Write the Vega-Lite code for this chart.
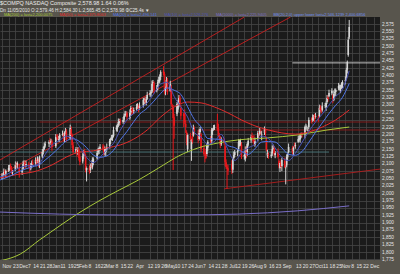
{
  "$schema": "https://vega.github.io/schema/vega-lite/v6.json",
  "width": 380,
  "height": 243,
  "autosize": {"type": "none"},
  "padding": {"left": 0, "top": 17, "right": 20, "bottom": 14},
  "background": "#58554d",
  "view": {"fill": "#1b1b1b", "stroke": null},
  "config": {"font": "Liberation Sans"},
  "title": {
    "text": "$COMPQ NASDAQ Composite  2,578.98   1.64  0.06%",
    "subtitle": "Dn 11/05/2010 O:2,579.46 H:2,584.30 L:2,565.45 C:2,578.98   \u03a6C25.4s \u25bc",
    "anchor": "start", "frame": "group", "orient": "top",
    "font": "Liberation Sans", "subtitleFont": "Liberation Sans",
    "fontSize": 5.5, "fontWeight": "normal", "color": "#ececec",
    "subtitleFontSize": 4.6, "subtitleColor": "#e6e6e6",
    "subtitlePadding": 0.8, "offset": 0.5
  },
  "datasets": {
    "px": [
      {"d":"2009-11-09","o":2052,"h":2068,"l":2045,"c":2059},
      {"d":"2009-11-10","o":2060,"h":2068,"l":2049,"c":2062},
      {"d":"2009-11-11","o":2063,"h":2084,"l":2058,"c":2072},
      {"d":"2009-11-12","o":2073,"h":2080,"l":2057,"c":2065},
      {"d":"2009-11-13","o":2066,"h":2081,"l":2053,"c":2076},
      {"d":"2009-11-16","o":2078,"h":2096,"l":2072,"c":2086},
      {"d":"2009-11-17","o":2085,"h":2097,"l":2076,"c":2089},
      {"d":"2009-11-18","o":2090,"h":2101,"l":2082,"c":2086},
      {"d":"2009-11-19","o":2084,"h":2093,"l":2065,"c":2072},
      {"d":"2009-11-20","o":2070,"h":2079,"l":2059,"c":2073},
      {"d":"2009-11-23","o":2080,"h":2108,"l":2075,"c":2096},
      {"d":"2009-11-24","o":2097,"h":2104,"l":2087,"c":2095},
      {"d":"2009-11-25","o":2096,"h":2108,"l":2083,"c":2103},
      {"d":"2009-11-27","o":2090,"h":2100,"l":2053,"c":2069},
      {"d":"2009-11-30","o":2071,"h":2087,"l":2062,"c":2079},
      {"d":"2009-12-01","o":2083,"h":2110,"l":2079,"c":2099},
      {"d":"2009-12-02","o":2100,"h":2112,"l":2093,"c":2103},
      {"d":"2009-12-03","o":2105,"h":2111,"l":2082,"c":2093},
      {"d":"2009-12-04","o":2096,"h":2111,"l":2088,"c":2099},
      {"d":"2009-12-07","o":2100,"h":2107,"l":2085,"c":2093},
      {"d":"2009-12-08","o":2092,"h":2097,"l":2069,"c":2082},
      {"d":"2009-12-09","o":2084,"h":2103,"l":2078,"c":2093},
      {"d":"2009-12-10","o":2095,"h":2111,"l":2086,"c":2103},
      {"d":"2009-12-11","o":2104,"h":2115,"l":2095,"c":2099},
      {"d":"2009-12-14","o":2101,"h":2122,"l":2094,"c":2113},
      {"d":"2009-12-15","o":2112,"h":2118,"l":2095,"c":2106},
      {"d":"2009-12-16","o":2107,"h":2125,"l":2102,"c":2113},
      {"d":"2009-12-17","o":2111,"h":2118,"l":2088,"c":2096},
      {"d":"2009-12-18","o":2098,"h":2128,"l":2085,"c":2123},
      {"d":"2009-12-21","o":2125,"h":2150,"l":2119,"c":2140},
      {"d":"2009-12-22","o":2141,"h":2158,"l":2132,"c":2150},
      {"d":"2009-12-23","o":2151,"h":2172,"l":2147,"c":2161},
      {"d":"2009-12-24","o":2162,"h":2176,"l":2155,"c":2167},
      {"d":"2009-12-28","o":2168,"h":2180,"l":2157,"c":2174},
      {"d":"2009-12-29","o":2176,"h":2188,"l":2168,"c":2173},
      {"d":"2009-12-30","o":2171,"h":2185,"l":2163,"c":2178},
      {"d":"2009-12-31","o":2177,"h":2182,"l":2144,"c":2157},
      {"d":"2010-01-04","o":2160,"h":2201,"l":2154,"c":2191},
      {"d":"2010-01-05","o":2192,"h":2200,"l":2181,"c":2190},
      {"d":"2010-01-06","o":2189,"h":2200,"l":2180,"c":2184},
      {"d":"2010-01-07","o":2182,"h":2194,"l":2175,"c":2185},
      {"d":"2010-01-08","o":2186,"h":2204,"l":2175,"c":2198},
      {"d":"2010-01-11","o":2199,"h":2213,"l":2194,"c":2201},
      {"d":"2010-01-12","o":2198,"h":2205,"l":2176,"c":2184},
      {"d":"2010-01-13","o":2186,"h":2210,"l":2173,"c":2205},
      {"d":"2010-01-14","o":2206,"h":2222,"l":2200,"c":2212},
      {"d":"2010-01-15","o":2210,"h":2218,"l":2175,"c":2184},
      {"d":"2010-01-19","o":2186,"h":2233,"l":2182,"c":2222},
      {"d":"2010-01-20","o":2218,"h":2227,"l":2191,"c":2198},
      {"d":"2010-01-21","o":2197,"h":2203,"l":2153,"c":2164},
      {"d":"2010-01-22","o":2162,"h":2174,"l":2135,"c":2140},
      {"d":"2010-01-25","o":2143,"h":2157,"l":2135,"c":2150},
      {"d":"2010-01-26","o":2148,"h":2153,"l":2124,"c":2137},
      {"d":"2010-01-27","o":2136,"h":2157,"l":2130,"c":2147},
      {"d":"2010-01-28","o":2148,"h":2156,"l":2111,"c":2120},
      {"d":"2010-01-29","o":2124,"h":2135,"l":2095,"c":2106},
      {"d":"2010-02-01","o":2108,"h":2136,"l":2101,"c":2127},
      {"d":"2010-02-02","o":2128,"h":2146,"l":2117,"c":2140},
      {"d":"2010-02-03","o":2139,"h":2151,"l":2125,"c":2130},
      {"d":"2010-02-04","o":2127,"h":2134,"l":2071,"c":2079},
      {"d":"2010-02-05","o":2078,"h":2091,"l":2040,"c":2086},
      {"d":"2010-02-08","o":2087,"h":2097,"l":2066,"c":2072},
      {"d":"2010-02-09","o":2078,"h":2101,"l":2069,"c":2093},
      {"d":"2010-02-10","o":2092,"h":2103,"l":2085,"c":2089},
      {"d":"2010-02-11","o":2088,"h":2122,"l":2081,"c":2113},
      {"d":"2010-02-12","o":2106,"h":2122,"l":2095,"c":2116},
      {"d":"2010-02-16","o":2119,"h":2149,"l":2114,"c":2137},
      {"d":"2010-02-17","o":2139,"h":2154,"l":2131,"c":2147},
      {"d":"2010-02-18","o":2146,"h":2159,"l":2133,"c":2154},
      {"d":"2010-02-19","o":2150,"h":2167,"l":2144,"c":2157},
      {"d":"2010-02-22","o":2159,"h":2167,"l":2145,"c":2154},
      {"d":"2010-02-23","o":2153,"h":2164,"l":2129,"c":2133},
      {"d":"2010-02-24","o":2135,"h":2159,"l":2128,"c":2150},
      {"d":"2010-02-25","o":2140,"h":2153,"l":2125,"c":2147},
      {"d":"2010-02-26","o":2149,"h":2169,"l":2144,"c":2157},
      {"d":"2010-03-01","o":2160,"h":2185,"l":2152,"c":2178},
      {"d":"2010-03-02","o":2180,"h":2189,"l":2167,"c":2184},
      {"d":"2010-03-03","o":2186,"h":2198,"l":2180,"c":2188},
      {"d":"2010-03-04","o":2187,"h":2199,"l":2178,"c":2191},
      {"d":"2010-03-05","o":2194,"h":2226,"l":2190,"c":2215},
      {"d":"2010-03-08","o":2217,"h":2231,"l":2210,"c":2222},
      {"d":"2010-03-09","o":2220,"h":2235,"l":2209,"c":2229},
      {"d":"2010-03-10","o":2230,"h":2254,"l":2225,"c":2242},
      {"d":"2010-03-11","o":2238,"h":2253,"l":2230,"c":2246},
      {"d":"2010-03-12","o":2249,"h":2254,"l":2232,"c":2245},
      {"d":"2010-03-15","o":2242,"h":2259,"l":2236,"c":2249},
      {"d":"2010-03-16","o":2250,"h":2271,"l":2241,"c":2263},
      {"d":"2010-03-17","o":2264,"h":2280,"l":2260,"c":2269},
      {"d":"2010-03-18","o":2268,"h":2279,"l":2261,"c":2270},
      {"d":"2010-03-19","o":2272,"h":2278,"l":2248,"c":2259},
      {"d":"2010-03-22","o":2255,"h":2285,"l":2250,"c":2273},
      {"d":"2010-03-23","o":2274,"h":2297,"l":2266,"c":2290},
      {"d":"2010-03-24","o":2287,"h":2292,"l":2267,"c":2280},
      {"d":"2010-03-25","o":2284,"h":2294,"l":2270,"c":2276},
      {"d":"2010-03-26","o":2278,"h":2291,"l":2269,"c":2283},
      {"d":"2010-03-29","o":2285,"h":2304,"l":2281,"c":2293},
      {"d":"2010-03-30","o":2294,"h":2306,"l":2287,"c":2297},
      {"d":"2010-03-31","o":2296,"h":2302,"l":2275,"c":2286},
      {"d":"2010-04-01","o":2289,"h":2309,"l":2284,"c":2297},
      {"d":"2010-04-05","o":2299,"h":2324,"l":2291,"c":2317},
      {"d":"2010-04-06","o":2315,"h":2325,"l":2302,"c":2320},
      {"d":"2010-04-07","o":2319,"h":2329,"l":2304,"c":2310},
      {"d":"2010-04-08","o":2308,"h":2328,"l":2299,"c":2320},
      {"d":"2010-04-09","o":2321,"h":2345,"l":2317,"c":2334},
      {"d":"2010-04-12","o":2335,"h":2350,"l":2328,"c":2341},
      {"d":"2010-04-13","o":2339,"h":2350,"l":2328,"c":2344},
      {"d":"2010-04-14","o":2346,"h":2383,"l":2341,"c":2371},
      {"d":"2010-04-15","o":2372,"h":2385,"l":2364,"c":2378},
      {"d":"2010-04-16","o":2376,"h":2381,"l":2338,"c":2351},
      {"d":"2010-04-19","o":2349,"h":2368,"l":2343,"c":2358},
      {"d":"2010-04-20","o":2360,"h":2386,"l":2351,"c":2378},
      {"d":"2010-04-21","o":2379,"h":2396,"l":2375,"c":2385},
      {"d":"2010-04-22","o":2380,"h":2404,"l":2373,"c":2395},
      {"d":"2010-04-23","o":2396,"h":2418,"l":2385,"c":2412},
      {"d":"2010-04-26","o":2414,"h":2432,"l":2400,"c":2409},
      {"d":"2010-04-27","o":2405,"h":2412,"l":2336,"c":2344},
      {"d":"2010-04-28","o":2346,"h":2363,"l":2333,"c":2358},
      {"d":"2010-04-29","o":2362,"h":2395,"l":2356,"c":2385},
      {"d":"2010-04-30","o":2384,"h":2392,"l":2335,"c":2344},
      {"d":"2010-05-03","o":2348,"h":2382,"l":2344,"c":2371},
      {"d":"2010-05-04","o":2360,"h":2369,"l":2296,"c":2303},
      {"d":"2010-05-05","o":2298,"h":2304,"l":2282,"c":2293},
      {"d":"2010-05-06","o":2290,"h":2300,"l":2079,"c":2256},
      {"d":"2010-05-07","o":2258,"h":2270,"l":2185,"c":2229},
      {"d":"2010-05-10","o":2270,"h":2310,"l":2262,"c":2303},
      {"d":"2010-05-11","o":2285,"h":2316,"l":2275,"c":2297},
      {"d":"2010-05-12","o":2298,"h":2334,"l":2292,"c":2324},
      {"d":"2010-05-13","o":2325,"h":2333,"l":2298,"c":2307},
      {"d":"2010-05-14","o":2290,"h":2301,"l":2250,"c":2263},
      {"d":"2010-05-17","o":2270,"h":2274,"l":2225,"c":2262},
      {"d":"2010-05-18","o":2270,"h":2285,"l":2235,"c":2242},
      {"d":"2010-05-19","o":2236,"h":2248,"l":2205,"c":2225},
      {"d":"2010-05-20","o":2207,"h":2214,"l":2163,"c":2171},
      {"d":"2010-05-21","o":2150,"h":2203,"l":2140,"c":2198},
      {"d":"2010-05-24","o":2195,"h":2205,"l":2178,"c":2184},
      {"d":"2010-05-25","o":2150,"h":2185,"l":2110,"c":2181},
      {"d":"2010-05-26","o":2192,"h":2210,"l":2168,"c":2174},
      {"d":"2010-05-27","o":2196,"h":2233,"l":2192,"c":2222},
      {"d":"2010-05-28","o":2218,"h":2227,"l":2201,"c":2208},
      {"d":"2010-06-01","o":2200,"h":2215,"l":2170,"c":2181},
      {"d":"2010-06-02","o":2184,"h":2217,"l":2179,"c":2205},
      {"d":"2010-06-03","o":2208,"h":2225,"l":2200,"c":2218},
      {"d":"2010-06-04","o":2200,"h":2205,"l":2140,"c":2150},
      {"d":"2010-06-07","o":2153,"h":2163,"l":2127,"c":2133},
      {"d":"2010-06-08","o":2130,"h":2138,"l":2105,"c":2127},
      {"d":"2010-06-09","o":2140,"h":2151,"l":2116,"c":2120},
      {"d":"2010-06-10","o":2133,"h":2170,"l":2126,"c":2161},
      {"d":"2010-06-11","o":2155,"h":2180,"l":2144,"c":2174},
      {"d":"2010-06-14","o":2182,"h":2194,"l":2168,"c":2173},
      {"d":"2010-06-15","o":2176,"h":2222,"l":2168,"c":2215},
      {"d":"2010-06-16","o":2211,"h":2221,"l":2198,"c":2216},
      {"d":"2010-06-17","o":2219,"h":2232,"l":2213,"c":2222},
      {"d":"2010-06-18","o":2224,"h":2233,"l":2215,"c":2225},
      {"d":"2010-06-21","o":2240,"h":2270,"l":2212,"c":2218},
      {"d":"2010-06-22","o":2222,"h":2236,"l":2190,"c":2195},
      {"d":"2010-06-23","o":2196,"h":2205,"l":2181,"c":2191},
      {"d":"2010-06-24","o":2188,"h":2194,"l":2153,"c":2164},
      {"d":"2010-06-25","o":2166,"h":2190,"l":2161,"c":2178},
      {"d":"2010-06-28","o":2180,"h":2187,"l":2163,"c":2171},
      {"d":"2010-06-29","o":2160,"h":2165,"l":2093,"c":2106},
      {"d":"2010-06-30","o":2105,"h":2115,"l":2083,"c":2089},
      {"d":"2010-07-01","o":2090,"h":2098,"l":2015,"c":2082},
      {"d":"2010-07-02","o":2085,"h":2096,"l":2062,"c":2076},
      {"d":"2010-07-06","o":2100,"h":2112,"l":2065,"c":2079},
      {"d":"2010-07-07","o":2080,"h":2121,"l":2069,"c":2116},
      {"d":"2010-07-08","o":2120,"h":2142,"l":2112,"c":2130},
      {"d":"2010-07-09","o":2130,"h":2147,"l":2122,"c":2140},
      {"d":"2010-07-12","o":2139,"h":2149,"l":2126,"c":2144},
      {"d":"2010-07-13","o":2150,"h":2184,"l":2144,"c":2174},
      {"d":"2010-07-14","o":2168,"h":2182,"l":2159,"c":2174},
      {"d":"2010-07-15","o":2170,"h":2185,"l":2160,"c":2173},
      {"d":"2010-07-16","o":2165,"h":2174,"l":2116,"c":2123},
      {"d":"2010-07-19","o":2125,"h":2136,"l":2114,"c":2130},
      {"d":"2010-07-20","o":2118,"h":2159,"l":2108,"c":2147},
      {"d":"2010-07-21","o":2150,"h":2160,"l":2119,"c":2127},
      {"d":"2010-07-22","o":2140,"h":2172,"l":2127,"c":2167},
      {"d":"2010-07-23","o":2165,"h":2188,"l":2159,"c":2178},
      {"d":"2010-07-26","o":2180,"h":2199,"l":2171,"c":2191},
      {"d":"2010-07-27","o":2195,"h":2206,"l":2184,"c":2188},
      {"d":"2010-07-28","o":2186,"h":2195,"l":2171,"c":2178},
      {"d":"2010-07-29","o":2182,"h":2198,"l":2163,"c":2174},
      {"d":"2010-07-30","o":2165,"h":2189,"l":2158,"c":2177},
      {"d":"2010-08-02","o":2185,"h":2212,"l":2177,"c":2205},
      {"d":"2010-08-03","o":2203,"h":2208,"l":2188,"c":2201},
      {"d":"2010-08-04","o":2202,"h":2222,"l":2196,"c":2212},
      {"d":"2010-08-05","o":2209,"h":2217,"l":2199,"c":2208},
      {"d":"2010-08-06","o":2200,"h":2212,"l":2180,"c":2201},
      {"d":"2010-08-09","o":2205,"h":2227,"l":2198,"c":2218},
      {"d":"2010-08-10","o":2214,"h":2220,"l":2190,"c":2205},
      {"d":"2010-08-11","o":2180,"h":2192,"l":2142,"c":2147},
      {"d":"2010-08-12","o":2128,"h":2148,"l":2120,"c":2137},
      {"d":"2010-08-13","o":2134,"h":2139,"l":2117,"c":2130},
      {"d":"2010-08-16","o":2126,"h":2141,"l":2120,"c":2131},
      {"d":"2010-08-17","o":2136,"h":2162,"l":2127,"c":2150},
      {"d":"2010-08-18","o":2149,"h":2165,"l":2145,"c":2154},
      {"d":"2010-08-19","o":2152,"h":2161,"l":2126,"c":2133},
      {"d":"2010-08-20","o":2130,"h":2143,"l":2119,"c":2137},
      {"d":"2010-08-23","o":2140,"h":2152,"l":2118,"c":2123},
      {"d":"2010-08-24","o":2110,"h":2117,"l":2085,"c":2093},
      {"d":"2010-08-25","o":2085,"h":2108,"l":2072,"c":2103},
      {"d":"2010-08-26","o":2105,"h":2115,"l":2083,"c":2089},
      {"d":"2010-08-27","o":2092,"h":2121,"l":2075,"c":2113},
      {"d":"2010-08-30","o":2110,"h":2121,"l":2085,"c":2089},
      {"d":"2010-08-31","o":2085,"h":2095,"l":2030,"c":2086},
      {"d":"2010-09-01","o":2095,"h":2132,"l":2088,"c":2123},
      {"d":"2010-09-02","o":2122,"h":2139,"l":2111,"c":2133},
      {"d":"2010-09-03","o":2140,"h":2169,"l":2135,"c":2157},
      {"d":"2010-09-07","o":2153,"h":2160,"l":2132,"c":2140},
      {"d":"2010-09-08","o":2142,"h":2159,"l":2129,"c":2154},
      {"d":"2010-09-09","o":2162,"h":2172,"l":2155,"c":2161},
      {"d":"2010-09-10","o":2160,"h":2172,"l":2151,"c":2164},
      {"d":"2010-09-13","o":2175,"h":2195,"l":2171,"c":2184},
      {"d":"2010-09-14","o":2182,"h":2197,"l":2175,"c":2188},
      {"d":"2010-09-15","o":2183,"h":2201,"l":2172,"c":2195},
      {"d":"2010-09-16","o":2192,"h":2206,"l":2187,"c":2194},
      {"d":"2010-09-17","o":2200,"h":2207,"l":2190,"c":2198},
      {"d":"2010-09-20","o":2200,"h":2230,"l":2187,"c":2225},
      {"d":"2010-09-21","o":2224,"h":2236,"l":2218,"c":2226},
      {"d":"2010-09-22","o":2222,"h":2230,"l":2213,"c":2222},
      {"d":"2010-09-23","o":2214,"h":2225,"l":2210,"c":2215},
      {"d":"2010-09-24","o":2225,"h":2258,"l":2218,"c":2249},
      {"d":"2010-09-27","o":2252,"h":2258,"l":2237,"c":2248},
      {"d":"2010-09-28","o":2248,"h":2268,"l":2243,"c":2256},
      {"d":"2010-09-29","o":2254,"h":2266,"l":2246,"c":2259},
      {"d":"2010-09-30","o":2265,"h":2270,"l":2242,"c":2255},
      {"d":"2010-10-01","o":2260,"h":2273,"l":2254,"c":2263},
      {"d":"2010-10-04","o":2258,"h":2266,"l":2243,"c":2252},
      {"d":"2010-10-05","o":2262,"h":2301,"l":2258,"c":2290},
      {"d":"2010-10-06","o":2290,"h":2299,"l":2276,"c":2283},
      {"d":"2010-10-07","o":2286,"h":2292,"l":2271,"c":2282},
      {"d":"2010-10-08","o":2282,"h":2309,"l":2277,"c":2297},
      {"d":"2010-10-11","o":2298,"h":2307,"l":2290,"c":2300},
      {"d":"2010-10-12","o":2293,"h":2312,"l":2280,"c":2307},
      {"d":"2010-10-13","o":2310,"h":2334,"l":2304,"c":2324},
      {"d":"2010-10-14","o":2325,"h":2333,"l":2311,"c":2320},
      {"d":"2010-10-15","o":2330,"h":2352,"l":2326,"c":2341},
      {"d":"2010-10-18","o":2340,"h":2357,"l":2333,"c":2348},
      {"d":"2010-10-19","o":2330,"h":2336,"l":2306,"c":2317},
      {"d":"2010-10-20","o":2318,"h":2349,"l":2313,"c":2337},
      {"d":"2010-10-21","o":2340,"h":2356,"l":2330,"c":2344},
      {"d":"2010-10-22","o":2344,"h":2356,"l":2331,"c":2351},
      {"d":"2010-10-25","o":2356,"h":2375,"l":2350,"c":2365},
      {"d":"2010-10-26","o":2358,"h":2369,"l":2349,"c":2361},
      {"d":"2010-10-27","o":2352,"h":2369,"l":2340,"c":2358},
      {"d":"2010-10-28","o":2362,"h":2377,"l":2355,"c":2368},
      {"d":"2010-10-29","o":2368,"h":2384,"l":2357,"c":2378},
      {"d":"2010-11-01","o":2382,"h":2397,"l":2370,"c":2385},
      {"d":"2010-11-02","o":2392,"h":2426,"l":2384,"c":2419},
      {"d":"2010-11-03","o":2420,"h":2451,"l":2407,"c":2446},
      {"d":"2010-11-04","o":2470,"h":2531,"l":2464,"c":2521},
      {"d":"2010-11-05","o":2530,"h":2589,"l":2524,"c":2565}
    ],
    "ma": [
      {"s":"MA200","d":"2009-11-07","v":1770},{"s":"MA200","d":"2009-11-28","v":1793},{"s":"MA200","d":"2009-12-18","v":1841},{"s":"MA200","d":"2010-01-08","v":1889},{"s":"MA200","d":"2010-01-28","v":1933},{"s":"MA200","d":"2010-02-18","v":1974},{"s":"MA200","d":"2010-03-11","v":2011},{"s":"MA200","d":"2010-03-31","v":2045},{"s":"MA200","d":"2010-04-21","v":2086},{"s":"MA200","d":"2010-05-12","v":2127},{"s":"MA200","d":"2010-06-01","v":2154},{"s":"MA200","d":"2010-06-22","v":2171},{"s":"MA200","d":"2010-07-12","v":2181},{"s":"MA200","d":"2010-08-12","v":2188},{"s":"MA200","d":"2010-09-12","v":2198},{"s":"MA200","d":"2010-10-13","v":2215},{"s":"MA200","d":"2010-11-05","v":2225},
      {"s":"MA1000","d":"2009-11-07","v":1936},{"s":"MA1000","d":"2010-01-08","v":1929},{"s":"MA1000","d":"2010-03-11","v":1926},{"s":"MA1000","d":"2010-05-12","v":1926},{"s":"MA1000","d":"2010-07-12","v":1929},{"s":"MA1000","d":"2010-09-12","v":1940},{"s":"MA1000","d":"2010-11-05","v":1957},
      {"s":"MA50","d":"2009-11-07","v":2052},{"s":"MA50","d":"2009-11-27","v":2065},{"s":"MA50","d":"2009-12-11","v":2072},{"s":"MA50","d":"2009-12-31","v":2096},{"s":"MA50","d":"2010-01-15","v":2123},{"s":"MA50","d":"2010-01-29","v":2140},{"s":"MA50","d":"2010-02-12","v":2144},{"s":"MA50","d":"2010-02-26","v":2154},{"s":"MA50","d":"2010-03-12","v":2164},{"s":"MA50","d":"2010-03-26","v":2184},{"s":"MA50","d":"2010-04-09","v":2215},{"s":"MA50","d":"2010-04-23","v":2259},{"s":"MA50","d":"2010-05-07","v":2293},{"s":"MA50","d":"2010-05-21","v":2310},{"s":"MA50","d":"2010-06-04","v":2307},{"s":"MA50","d":"2010-06-18","v":2293},{"s":"MA50","d":"2010-07-02","v":2273},{"s":"MA50","d":"2010-07-16","v":2249},{"s":"MA50","d":"2010-07-30","v":2229},{"s":"MA50","d":"2010-08-13","v":2215},{"s":"MA50","d":"2010-08-27","v":2205},{"s":"MA50","d":"2010-09-10","v":2201},{"s":"MA50","d":"2010-09-24","v":2208},{"s":"MA50","d":"2010-10-08","v":2225},{"s":"MA50","d":"2010-10-22","v":2249},{"s":"MA50","d":"2010-11-05","v":2283},
      {"s":"MA20","d":"2009-11-07","v":2045},{"s":"MA20","d":"2009-11-13","v":2052},{"s":"MA20","d":"2009-11-20","v":2062},{"s":"MA20","d":"2009-11-27","v":2074},{"s":"MA20","d":"2009-12-04","v":2083},{"s":"MA20","d":"2009-12-11","v":2090},{"s":"MA20","d":"2009-12-18","v":2097},{"s":"MA20","d":"2009-12-24","v":2113},{"s":"MA20","d":"2009-12-31","v":2132},{"s":"MA20","d":"2010-01-08","v":2157},{"s":"MA20","d":"2010-01-15","v":2178},{"s":"MA20","d":"2010-01-22","v":2185},{"s":"MA20","d":"2010-01-29","v":2175},{"s":"MA20","d":"2010-02-05","v":2155},{"s":"MA20","d":"2010-02-12","v":2130},{"s":"MA20","d":"2010-02-19","v":2122},{"s":"MA20","d":"2010-02-26","v":2127},{"s":"MA20","d":"2010-03-05","v":2146},{"s":"MA20","d":"2010-03-12","v":2181},{"s":"MA20","d":"2010-03-19","v":2210},{"s":"MA20","d":"2010-03-26","v":2243},{"s":"MA20","d":"2010-04-01","v":2268},{"s":"MA20","d":"2010-04-09","v":2289},{"s":"MA20","d":"2010-04-16","v":2313},{"s":"MA20","d":"2010-04-23","v":2339},{"s":"MA20","d":"2010-04-30","v":2358},{"s":"MA20","d":"2010-05-07","v":2350},{"s":"MA20","d":"2010-05-14","v":2336},{"s":"MA20","d":"2010-05-21","v":2294},{"s":"MA20","d":"2010-05-28","v":2251},{"s":"MA20","d":"2010-06-04","v":2225},{"s":"MA20","d":"2010-06-11","v":2186},{"s":"MA20","d":"2010-06-18","v":2184},{"s":"MA20","d":"2010-06-25","v":2183},{"s":"MA20","d":"2010-07-02","v":2162},{"s":"MA20","d":"2010-07-09","v":2155},{"s":"MA20","d":"2010-07-16","v":2142},{"s":"MA20","d":"2010-07-23","v":2132},{"s":"MA20","d":"2010-07-30","v":2151},{"s":"MA20","d":"2010-08-06","v":2174},{"s":"MA20","d":"2010-08-13","v":2176},{"s":"MA20","d":"2010-08-20","v":2174},{"s":"MA20","d":"2010-08-27","v":2154},{"s":"MA20","d":"2010-09-03","v":2132},{"s":"MA20","d":"2010-09-10","v":2129},{"s":"MA20","d":"2010-09-17","v":2142},{"s":"MA20","d":"2010-09-24","v":2173},{"s":"MA20","d":"2010-10-01","v":2207},{"s":"MA20","d":"2010-10-08","v":2239},{"s":"MA20","d":"2010-10-15","v":2271},{"s":"MA20","d":"2010-10-22","v":2299},{"s":"MA20","d":"2010-10-29","v":2326},{"s":"MA20","d":"2010-11-05","v":2373},
      {"s":"MA10","d":"2009-11-07","v":2055},{"s":"MA10","d":"2009-11-13","v":2062},{"s":"MA10","d":"2009-11-20","v":2074},{"s":"MA10","d":"2009-11-27","v":2086},{"s":"MA10","d":"2009-12-04","v":2093},{"s":"MA10","d":"2009-12-11","v":2094},{"s":"MA10","d":"2009-12-18","v":2102},{"s":"MA10","d":"2009-12-24","v":2132},{"s":"MA10","d":"2009-12-31","v":2163},{"s":"MA10","d":"2010-01-08","v":2180},{"s":"MA10","d":"2010-01-15","v":2194},{"s":"MA10","d":"2010-01-22","v":2189},{"s":"MA10","d":"2010-01-29","v":2157},{"s":"MA10","d":"2010-02-05","v":2122},{"s":"MA10","d":"2010-02-12","v":2104},{"s":"MA10","d":"2010-02-19","v":2122},{"s":"MA10","d":"2010-02-26","v":2148},{"s":"MA10","d":"2010-03-05","v":2170},{"s":"MA10","d":"2010-03-12","v":2214},{"s":"MA10","d":"2010-03-19","v":2249},{"s":"MA10","d":"2010-03-26","v":2271},{"s":"MA10","d":"2010-04-01","v":2287},{"s":"MA10","d":"2010-04-09","v":2307},{"s":"MA10","d":"2010-04-16","v":2339},{"s":"MA10","d":"2010-04-23","v":2371},{"s":"MA10","d":"2010-04-30","v":2377},{"s":"MA10","d":"2010-05-07","v":2329},{"s":"MA10","d":"2010-05-14","v":2294},{"s":"MA10","d":"2010-05-21","v":2259},{"s":"MA10","d":"2010-05-28","v":2207},{"s":"MA10","d":"2010-06-04","v":2191},{"s":"MA10","d":"2010-06-11","v":2166},{"s":"MA10","d":"2010-06-18","v":2176},{"s":"MA10","d":"2010-06-25","v":2200},{"s":"MA10","d":"2010-07-02","v":2147},{"s":"MA10","d":"2010-07-09","v":2111},{"s":"MA10","d":"2010-07-16","v":2137},{"s":"MA10","d":"2010-07-23","v":2154},{"s":"MA10","d":"2010-07-30","v":2166},{"s":"MA10","d":"2010-08-06","v":2194},{"s":"MA10","d":"2010-08-13","v":2186},{"s":"MA10","d":"2010-08-20","v":2154},{"s":"MA10","d":"2010-08-27","v":2122},{"s":"MA10","d":"2010-09-03","v":2111},{"s":"MA10","d":"2010-09-10","v":2136},{"s":"MA10","d":"2010-09-17","v":2173},{"s":"MA10","d":"2010-09-24","v":2210},{"s":"MA10","d":"2010-10-01","v":2242},{"s":"MA10","d":"2010-10-08","v":2269},{"s":"MA10","d":"2010-10-15","v":2300},{"s":"MA10","d":"2010-10-22","v":2329},{"s":"MA10","d":"2010-10-29","v":2353},{"s":"MA10","d":"2010-11-05","v":2416}
    ],
    "lv": [
      {"g":"H1","d":"2009-12-18","v":2242},{"g":"H1","d":"2010-12-07","v":2242},
      {"g":"H2","d":"2010-06-01","v":2215},{"g":"H2","d":"2010-12-07","v":2215},
      {"g":"H3","d":"2009-11-07","v":2140},{"g":"H3","d":"2010-10-15","v":2140},
      {"g":"H4","d":"2010-09-07","v":2443},{"g":"H4","d":"2010-12-07","v":2443},
      {"g":"R1","d":"2009-11-07","v":2113},{"g":"R1","d":"2010-07-19","v":2599},
      {"g":"R2","d":"2009-11-07","v":2062},{"g":"R2","d":"2010-09-05","v":2599},
      {"g":"S1","d":"2010-06-28","v":2015},{"g":"S1","d":"2010-12-07","v":2082}
    ]
  },
  "encoding": {
    "x": {
      "field": "d", "type": "temporal", "title": null,
      "scale": {"type": "utc", "domain": [{"year": 2009, "month": 11, "date": 7, "utc": true}, {"year": 2010, "month": 12, "date": 7, "utc": true}]},
      "axis": {
        "values": [
          {"year":2009,"month":11,"date":9,"utc":true},{"year":2009,"month":11,"date":16,"utc":true},{"year":2009,"month":11,"date":23,"utc":true},{"year":2009,"month":12,"date":1,"utc":true},{"year":2009,"month":12,"date":7,"utc":true},{"year":2009,"month":12,"date":14,"utc":true},{"year":2009,"month":12,"date":21,"utc":true},{"year":2009,"month":12,"date":28,"utc":true},
          {"year":2010,"month":1,"date":4,"utc":true},{"year":2010,"month":1,"date":11,"utc":true},{"year":2010,"month":1,"date":19,"utc":true},{"year":2010,"month":1,"date":25,"utc":true},
          {"year":2010,"month":2,"date":1,"utc":true},{"year":2010,"month":2,"date":8,"utc":true},{"year":2010,"month":2,"date":16,"utc":true},{"year":2010,"month":2,"date":22,"utc":true},
          {"year":2010,"month":3,"date":1,"utc":true},{"year":2010,"month":3,"date":8,"utc":true},{"year":2010,"month":3,"date":15,"utc":true},{"year":2010,"month":3,"date":22,"utc":true},
          {"year":2010,"month":4,"date":1,"utc":true},{"year":2010,"month":4,"date":12,"utc":true},{"year":2010,"month":4,"date":19,"utc":true},{"year":2010,"month":4,"date":26,"utc":true},
          {"year":2010,"month":5,"date":3,"utc":true},{"year":2010,"month":5,"date":10,"utc":true},{"year":2010,"month":5,"date":17,"utc":true},{"year":2010,"month":5,"date":24,"utc":true},
          {"year":2010,"month":6,"date":1,"utc":true},{"year":2010,"month":6,"date":7,"utc":true},{"year":2010,"month":6,"date":14,"utc":true},{"year":2010,"month":6,"date":21,"utc":true},{"year":2010,"month":6,"date":28,"utc":true},
          {"year":2010,"month":7,"date":6,"utc":true},{"year":2010,"month":7,"date":12,"utc":true},{"year":2010,"month":7,"date":19,"utc":true},{"year":2010,"month":7,"date":26,"utc":true},
          {"year":2010,"month":8,"date":2,"utc":true},{"year":2010,"month":8,"date":9,"utc":true},{"year":2010,"month":8,"date":16,"utc":true},{"year":2010,"month":8,"date":23,"utc":true},
          {"year":2010,"month":9,"date":1,"utc":true},{"year":2010,"month":9,"date":7,"utc":true},{"year":2010,"month":9,"date":13,"utc":true},{"year":2010,"month":9,"date":20,"utc":true},{"year":2010,"month":9,"date":27,"utc":true},
          {"year":2010,"month":10,"date":4,"utc":true},{"year":2010,"month":10,"date":11,"utc":true},{"year":2010,"month":10,"date":18,"utc":true},{"year":2010,"month":10,"date":25,"utc":true},
          {"year":2010,"month":11,"date":1,"utc":true},{"year":2010,"month":11,"date":8,"utc":true},{"year":2010,"month":11,"date":15,"utc":true},{"year":2010,"month":11,"date":22,"utc":true},
          {"year":2010,"month":12,"date":1,"utc":true}
        ],
        "labelExpr": "indexof(['2009-11-16','2010-09-07'], utcFormat(datum.value,'%Y-%m-%d')) >= 0 ? '' : (indexof(['2009-11-09','2009-12-01','2010-01-04','2010-02-01','2010-03-01','2010-04-01','2010-05-03','2010-06-01','2010-07-06','2010-08-02','2010-09-01','2010-10-04','2010-11-01','2010-12-01'], utcFormat(datum.value,'%Y-%m-%d')) >= 0 ? utcFormat(datum.value,'%b') : utcFormat(datum.value,'%-d'))",
        "labelAlign": {"condition": {"test": "datum.value < utc(2009, 10, 20)", "value": "left"}, "value": "center"},
        "grid": true, "gridColor": "#464646", "gridWidth": 0.8,
        "ticks": false, "domain": false,
        "labelFont": "Liberation Sans", "labelFontSize": 5, "labelColor": "#e4e4e4",
        "labelPadding": 3, "labelOverlap": false, "labelFlush": false, "labelBound": false
      }
    }
  },
  "layer": [
    {
      "data": {"name": "lv"},
      "mark": {"type": "line", "strokeWidth": 0.9, "clip": true},
      "encoding": {
        "y": {"field": "v", "type": "quantitative", "title": null,
          "scale": {"domain": [1773, 2599], "nice": false, "zero": false},
          "axis": {"orient": "right", "values": [1775,1800,1825,1850,1875,1900,1925,1950,1975,2000,2025,2050,2075,2100,2125,2150,2175,2200,2225,2250,2275,2300,2325,2350,2375,2400,2425,2450,2475,2500,2525,2550,2575],
            "format": ",d", "grid": true, "gridColor": "#464646", "gridWidth": 0.8, "ticks": false, "domain": false,
            "labelFont": "Liberation Sans", "labelFontSize": 4.8, "labelColor": "#e4e4e4", "labelPadding": 1.5, "labelOverlap": false, "labelBound": false}},
        "detail": {"field": "g", "type": "nominal"},
        "stroke": {"field": "g", "type": "nominal", "legend": null,
          "scale": {"domain": ["H1","H2","H3","H4","R1","R2","S1"], "range": ["#8e1c1c","#8e1c1c","#4d7a7e","#d2d2d2","#c91f1f","#c91f1f","#b31d1d"]}}
      }
    },
    {
      "data": {"name": "px"},
      "mark": {"type": "rule", "strokeWidth": 1, "clip": true},
      "encoding": {
        "y": {"field": "l", "type": "quantitative", "title": null,
          "scale": {"domain": [1773, 2599], "nice": false, "zero": false},
          "axis": {"orient": "right", "values": [1775,1800,1825,1850,1875,1900,1925,1950,1975,2000,2025,2050,2075,2100,2125,2150,2175,2200,2225,2250,2275,2300,2325,2350,2375,2400,2425,2450,2475,2500,2525,2550,2575],
            "format": ",d", "grid": true, "gridColor": "#464646", "gridWidth": 0.8, "ticks": false, "domain": false,
            "labelFont": "Liberation Sans", "labelFontSize": 4.8, "labelColor": "#e4e4e4", "labelPadding": 1.5, "labelOverlap": false, "labelBound": false}},
        "y2": {"field": "h"},
        "color": {"condition": {"test": "datum.c < datum.o", "value": "#e8181c"}, "value": "#d6d6d6"}
      }
    },
    {
      "data": {"name": "px"},
      "mark": {"type": "rule", "strokeWidth": 1.6, "clip": true},
      "encoding": {
        "y": {"field": "o", "type": "quantitative", "title": null,
          "scale": {"domain": [1773, 2599], "nice": false, "zero": false},
          "axis": {"orient": "right", "values": [1775,1800,1825,1850,1875,1900,1925,1950,1975,2000,2025,2050,2075,2100,2125,2150,2175,2200,2225,2250,2275,2300,2325,2350,2375,2400,2425,2450,2475,2500,2525,2550,2575],
            "format": ",d", "grid": true, "gridColor": "#464646", "gridWidth": 0.8, "ticks": false, "domain": false,
            "labelFont": "Liberation Sans", "labelFontSize": 4.8, "labelColor": "#e4e4e4", "labelPadding": 1.5, "labelOverlap": false, "labelBound": false}},
        "y2": {"field": "c"},
        "color": {"condition": {"test": "datum.c < datum.o", "value": "#e8181c"}, "value": "#d6d6d6"}
      }
    },
    {
      "data": {"name": "ma"},
      "mark": {"type": "line", "strokeWidth": 1, "clip": true, "interpolate": "monotone"},
      "encoding": {
        "y": {"field": "v", "type": "quantitative", "title": null,
          "scale": {"domain": [1773, 2599], "nice": false, "zero": false},
          "axis": {"orient": "right", "values": [1775,1800,1825,1850,1875,1900,1925,1950,1975,2000,2025,2050,2075,2100,2125,2150,2175,2200,2225,2250,2275,2300,2325,2350,2375,2400,2425,2450,2475,2500,2525,2550,2575],
            "format": ",d", "grid": true, "gridColor": "#464646", "gridWidth": 0.8, "ticks": false, "domain": false,
            "labelFont": "Liberation Sans", "labelFontSize": 4.8, "labelColor": "#e4e4e4", "labelPadding": 1.5, "labelOverlap": false, "labelBound": false}},
        "color": {"field": "s", "type": "nominal",
          "scale": {"domain": ["MA200","MA50","MA20","MA10","MA1000","BB"], "range": ["#a8c93a","#e02a2a","#4f74e6","#4a52b8","#7a6ec8","#6f8ff0"]},
          "legend": {
            "orient": "none", "legendX": 0, "legendY": -4.4, "direction": "horizontal", "columns": 6,
            "title": null, "padding": 0, "symbolSize": 0, "symbolStrokeWidth": 0, "symbolOpacity": 0,
            "labelOffset": 0, "columnPadding": 2.5, "labelFont": "Liberation Sans", "labelFontSize": 4, "labelLimit": 0,
            "labelExpr": "datum.label == 'MA200' ? 'MA(200) = last=2,200.0075' : datum.label == 'MA50' ? 'MA(50) = last=2,375.8063' : datum.label == 'MA20' ? 'MA(20) = last=2,496.141' : datum.label == 'MA10' ? 'MA(10) = last=2,526.276' : datum.label == 'MA1000' ? 'MA(1000) = last=2,225.9405' : 'BB(20,2.0) upper lower last=2,546.1239 2,400.6856'",
            "encode": {"labels": {"update": {"fill": {"signal": "scale('color', datum.value)"}}}}
          }
        }
      }
    }
  ]
}
